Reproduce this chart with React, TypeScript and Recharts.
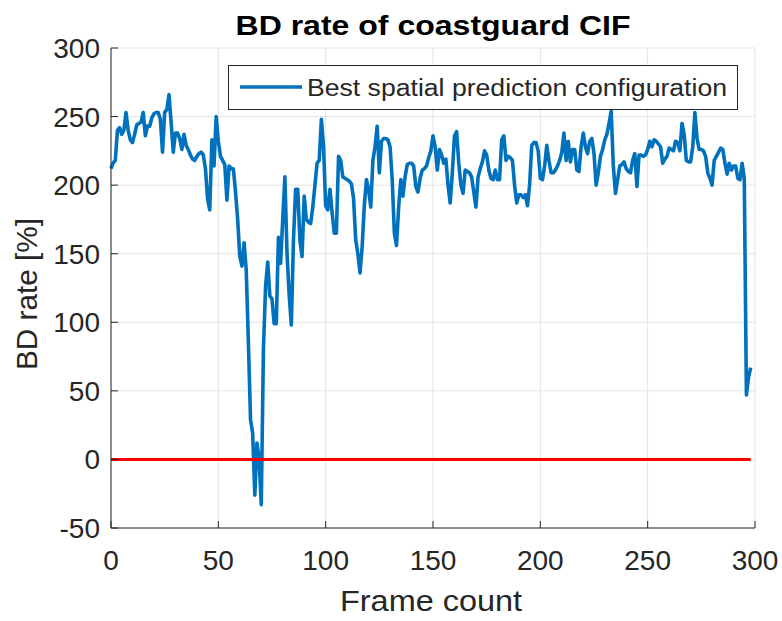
import React from 'react';
import { LineChart, Line, XAxis, YAxis, CartesianGrid } from 'recharts';

// BD rate per frame (frames 0..298)
const bdRate = [
  212, 216, 218, 240, 242, 237, 240, 253, 240, 233,
  231, 237, 244, 245, 246, 253, 236, 243, 243, 249,
  252, 253, 253, 248, 224, 253, 255, 266, 246, 224,
  238, 238, 234, 226, 237, 229, 226, 222, 219, 218,
  221, 223, 224, 222, 212, 190, 182, 233, 214, 250,
  232, 221, 218, 215, 189, 214, 212, 212, 195, 175,
  148, 141, 158, 138, 85, 29, 19, -26, 12, 0,
  -33, 80, 126, 144, 119, 117, 99, 99, 162, 143,
  175, 206, 150, 120, 98, 160, 197, 197, 160, 148,
  192, 175, 173, 172, 184, 200, 216, 218, 248, 228,
  185, 182, 197, 180, 165, 165, 221, 218, 206, 205,
  204, 203, 201, 190, 160, 150, 136, 155, 185, 204,
  197, 184, 218, 228, 243, 209, 232, 234, 234, 233,
  228, 204, 165, 156, 184, 204, 192, 206, 215, 216,
  216, 214, 199, 195, 205, 211, 212, 214, 220, 225,
  236, 228, 211, 226, 222, 216, 219, 200, 187, 209,
  236, 239, 216, 200, 194, 211, 210, 209, 206, 195,
  184, 206, 212, 217, 225, 222, 211, 205, 204, 211,
  204, 204, 233, 236, 218, 221, 220, 218, 200, 187,
  193, 193, 191, 193, 185, 200, 229, 231, 231, 225,
  205, 204, 214, 229, 218, 209, 209, 211, 214, 218,
  224, 238, 218, 232, 217, 226, 226, 211, 210, 228,
  238, 228, 223, 232, 234, 223, 200, 209, 221, 226,
  233, 237, 245, 254, 214, 194, 204, 214, 215, 217,
  212, 210, 209, 218, 223, 199, 222, 222, 221, 222,
  226, 232, 228, 233, 232, 230, 228, 216, 219, 221,
  227, 226, 225, 232, 231, 225, 245, 237, 218, 217,
  217, 228, 253, 234, 226, 226, 225, 221, 209, 205,
  200, 218, 221, 224, 227, 226, 216, 208, 216, 211,
  214, 214, 205, 204, 216, 205, 47, 60, 67,
];

const xTicks = [0, 50, 100, 150, 200, 250, 300];
const yTicks = [-50, 0, 50, 100, 150, 200, 250, 300];

const data = bdRate.map((v, i) => ({ frame: i, bd: v, zero: 0 }));

const FONT = '"Liberation Sans", Arial, Helvetica, sans-serif';
const AXIS = '#262626';

const BottomTick = ({ x, y, payload }: any) => (
  <g>
    <line x1={x} x2={x} y1={y} y2={y - 7} stroke={AXIS} />
    <text x={x} y={y + 42} textAnchor="middle" fontSize={28} fontFamily={FONT} fill={AXIS}>
      {payload.value}
    </text>
  </g>
);

const LeftTick = ({ x, y, payload }: any) => (
  <g>
    <line x1={x} x2={x + 7} y1={y} y2={y} stroke={AXIS} />
    <text x={x - 11} y={y + 10} textAnchor="end" fontSize={28} fontFamily={FONT} fill={AXIS}>
      {payload.value}
    </text>
  </g>
);

const TopTick = ({ x, y }: any) => <line x1={x} x2={x} y1={y} y2={y + 7} stroke={AXIS} />;
const RightTick = ({ x, y }: any) => <line x1={x} x2={x - 7} y1={y} y2={y} stroke={AXIS} />;

export default function App() {
  return (
    <div style={{ position: 'absolute', left: 0, top: 0, width: 782, height: 621, background: '#fff' }}>
      <LineChart width={782} height={621} data={data} margin={{ top: 48, right: 27, left: 0, bottom: 0 }}>
        <CartesianGrid stroke="#e3e3e3" />
        <XAxis
          dataKey="frame"
          type="number"
          domain={[0, 300]}
          ticks={xTicks}
          interval={0}
          height={93}
          tickSize={0}
          tickMargin={0}
          tick={<BottomTick />}
          stroke={AXIS}
        />
        <XAxis
          xAxisId="top"
          orientation="top"
          dataKey="frame"
          type="number"
          domain={[0, 300]}
          ticks={xTicks}
          interval={0}
          height={0}
          tickSize={0}
          tickMargin={0}
          tick={<TopTick />}
          stroke={AXIS}
        />
        <YAxis
          type="number"
          domain={[-50, 300]}
          ticks={yTicks}
          interval={0}
          width={111}
          tickSize={0}
          tickMargin={0}
          tick={<LeftTick />}
          stroke={AXIS}
        />
        <YAxis
          yAxisId="right"
          orientation="right"
          type="number"
          domain={[-50, 300]}
          ticks={yTicks}
          interval={0}
          width={0}
          tickSize={0}
          tickMargin={0}
          tick={<RightTick />}
          stroke={AXIS}
        />
        <Line
          dataKey="bd"
          type="linear"
          stroke="#0072BD"
          strokeWidth={3.6}
          strokeLinejoin="round"
          dot={false}
          isAnimationActive={false}
        />
        <Line
          dataKey="zero"
          type="linear"
          stroke="#FF0000"
          strokeWidth={3}
          dot={false}
          isAnimationActive={false}
        />
      </LineChart>
      <svg
        width={782}
        height={621}
        style={{ position: 'absolute', left: 0, top: 0, pointerEvents: 'none' }}
        fontFamily={FONT}
      >
        <text x={433} y={35} textAnchor="middle" fontSize={28} fontWeight="bold" fill="#000" textLength={395} lengthAdjust="spacingAndGlyphs">
          BD rate of coastguard CIF
        </text>
        <text x={431} y={611} textAnchor="middle" fontSize={30} fill={AXIS} textLength={182} lengthAdjust="spacingAndGlyphs">
          Frame count
        </text>
        <text
          transform="translate(37,294) rotate(-90)"
          textAnchor="middle"
          fontSize={30}
          fill={AXIS}
          textLength={152}
          lengthAdjust="spacingAndGlyphs"
        >
          BD rate [%]
        </text>
        <rect x={228.5} y={65.5} width={509} height={44} fill="#fff" stroke={AXIS} />
        <line x1={240} x2={302} y1={87} y2={87} stroke="#0072BD" strokeWidth={3.6} />
        <text x={307} y={96} fontSize={23} fill={AXIS} textLength={420} lengthAdjust="spacingAndGlyphs">
          Best spatial prediction configuration
        </text>
      </svg>
    </div>
  );
}
